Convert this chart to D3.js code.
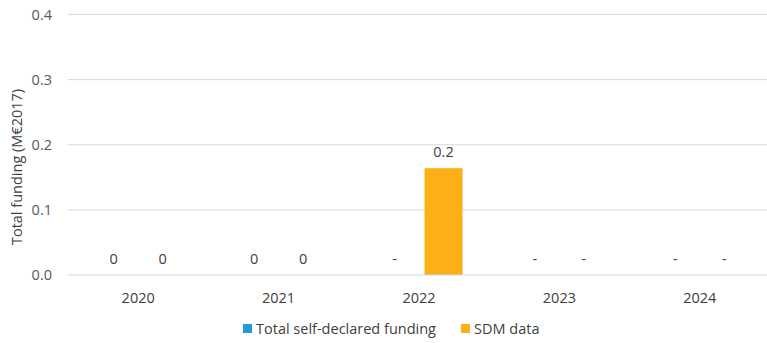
<!DOCTYPE html>
<html><head><meta charset="utf-8">
<script src="https://cdn.jsdelivr.net/npm/d3@7"></script>
<style>body{margin:0;background:#fff}svg{display:block}text{font-family:"Open Sans",sans-serif}</style>
</head><body>
<svg id="c" width="767" height="343"></svg>
<script>
const years = ["2020","2021","2022","2023","2024"];
const seriesNames = ["Total self-declared funding","SDM data"];
const selfDeclared = [0, 0, null, null, null];
const sdmData = [0, 0, 0.164, null, null];
const yTicks = [0, 0.1, 0.2, 0.3, 0.4];
const colors = ["#1F9BDE", "#FCAF17"];

const svg = d3.select("#c");
const x0 = d3.scaleBand().domain(years).range([68, 770]);
const x1 = d3.scaleBand().domain(seriesNames).range([-43.5, 43.5]).paddingInner(0.2245);
const y = d3.scaleLinear().domain([0, 0.4]).range([275, 14.5]);
const fs = 14.5;

// gridlines
svg.append("g").selectAll("line").data(yTicks.filter(t=>t>0)).join("line")
  .attr("x1", 68).attr("x2", 767).attr("y1", d=>y(d)).attr("y2", d=>y(d))
  .attr("stroke", "#D9D9D9").attr("stroke-width", 1);

// y tick labels
svg.append("g").selectAll("text").data(yTicks).join("text")
  .attr("x", 52).attr("y", d=>y(d)).attr("dy", "0.35em").attr("text-anchor", "end")
  .attr("font-size", fs).attr("fill", "#595959").text(d=>d.toFixed(1));

// y title
svg.append("text").attr("transform", "translate(22,167) rotate(-90)")
  .attr("text-anchor", "middle").attr("font-size", fs).attr("fill", "#404040")
  .text("Total funding (M€2017)");

const series = [selfDeclared, sdmData];
series.forEach((vals, si) => {
  const g = svg.append("g");
  const data = years.map((yr, i) => ({yr, v: vals[i]}));
  g.selectAll("rect").data(data.filter(d=>d.v !== null && d.v > 0)).join("rect")
    .attr("x", d=>x0(d.yr) + x0.bandwidth()/2 + x1(seriesNames[si]))
    .attr("width", x1.bandwidth())
    .attr("y", d=>y(d.v)).attr("height", d=>y(0)-y(d.v))
    .attr("fill", colors[si]);
  g.selectAll("text").data(data).join("text")
    .attr("x", d=>x0(d.yr) + x0.bandwidth()/2 + x1(seriesNames[si]) + x1.bandwidth()/2)
    .attr("y", d=>y(d.v === null ? 0 : d.v) - 11)
    .attr("text-anchor", "middle").attr("font-size", fs).attr("fill", "#404040")
    .text(d=>d.v === null ? "-" : (d.v === 0 ? "0" : d.v.toFixed(1)));
});

// baseline
svg.append("line").attr("x1", 68).attr("x2", 767).attr("y1", y(0)).attr("y2", y(0))
  .attr("stroke", "#C5DCF0").attr("stroke-width", 1);

// x labels
svg.append("g").selectAll("text").data(years).join("text")
  .attr("x", d=>x0(d)+x0.bandwidth()/2).attr("y", 303).attr("text-anchor", "middle")
  .attr("font-size", fs).attr("fill", "#404040").text(d=>d);

// legend
const legX = [243, 461];
const lg = svg.append("g").selectAll("g").data(seriesNames).join("g")
  .attr("transform", (d,i)=>`translate(${legX[i]},324)`);
lg.append("rect").attr("width", 9).attr("height", 9).attr("fill", (d,i)=>colors[i]);
lg.append("text").attr("x", 13).attr("y", 4.5).attr("dy", "0.35em")
  .attr("font-size", fs).attr("fill", "#404040").text(d=>d);
</script>
</body></html>
